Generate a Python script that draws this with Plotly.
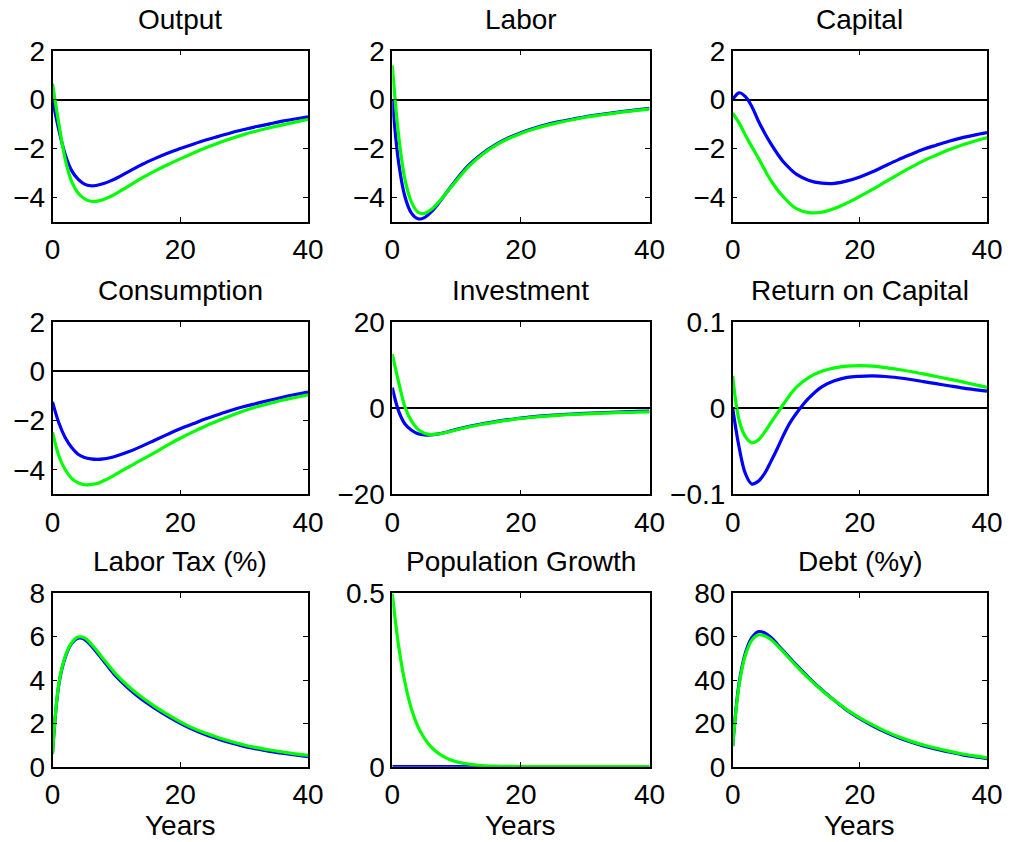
import plotly.graph_objects as go

# Time axis (years after the shock): yearly to 10, then every 2 years
years = [0, 1, 2, 3, 4, 5, 6, 7, 8, 9, 10,
         12, 14, 16, 18, 20, 22, 24, 26, 28, 30, 32, 34, 36, 38, 40]

output_blue = [0, -1.25, -2.25, -2.9, -3.25, -3.45, -3.52, -3.5, -3.43, -3.33, -3.21,
               -2.93, -2.65, -2.41, -2.19, -2.0, -1.82, -1.65, -1.5, -1.35, -1.22,
               -1.1, -0.99, -0.88, -0.79, -0.7]
output_green = [0.65, -1.0, -2.45, -3.35, -3.82, -4.05, -4.15, -4.15, -4.08, -3.97, -3.83,
                -3.52, -3.2, -2.92, -2.66, -2.42, -2.19, -1.97, -1.77, -1.59, -1.42,
                -1.28, -1.15, -1.03, -0.92, -0.81]

labor_blue = [0, -2.6, -4.0, -4.65, -4.87, -4.82, -4.6, -4.3, -3.95, -3.6, -3.25,
              -2.65, -2.2, -1.85, -1.57, -1.35, -1.17, -1.02, -0.9, -0.8, -0.7,
              -0.62, -0.55, -0.48, -0.42, -0.36]
labor_green = [1.4, -1.5, -3.3, -4.2, -4.6, -4.65, -4.5, -4.25, -3.95, -3.62, -3.3,
               -2.7, -2.24, -1.88, -1.6, -1.38, -1.2, -1.05, -0.93, -0.82, -0.72,
               -0.64, -0.57, -0.5, -0.44, -0.39]

capital_blue = [0, 0.28, 0.12, -0.28, -0.85, -1.35, -1.8, -2.2, -2.55, -2.82, -3.04,
                -3.3, -3.41, -3.42, -3.32, -3.16, -2.95, -2.7, -2.46, -2.24, -2.03,
                -1.86, -1.7, -1.56, -1.45, -1.35]
capital_green = [-0.55, -0.95, -1.45, -1.92, -2.37, -2.85, -3.3, -3.67, -3.98, -4.25, -4.45,
                 -4.62, -4.6, -4.45, -4.22, -3.95, -3.67, -3.36, -3.06, -2.77, -2.5,
                 -2.27, -2.05, -1.86, -1.7, -1.55]

consumption_blue = [-1.24, -2.1, -2.7, -3.1, -3.37, -3.5, -3.56, -3.58, -3.56, -3.51, -3.44,
                    -3.26, -3.04, -2.8, -2.56, -2.33, -2.13, -1.93, -1.75, -1.58, -1.43,
                    -1.3, -1.17, -1.05, -0.94, -0.84]
consumption_green = [-2.47, -3.44, -4.0, -4.35, -4.53, -4.61, -4.6, -4.56, -4.45, -4.32, -4.17,
                     -3.88, -3.59, -3.3, -3.0, -2.72, -2.46, -2.22, -2.0, -1.79, -1.6,
                     -1.44, -1.3, -1.17, -1.06, -0.95]

investment_blue = [4.8, -0.7, -3.7, -5.1, -5.9, -6.2, -6.2, -6.0, -5.7, -5.3, -4.9,
                   -4.2, -3.6, -3.1, -2.65, -2.25, -1.95, -1.7, -1.5, -1.33, -1.18,
                   -1.05, -0.93, -0.82, -0.72, -0.63]
investment_green = [12.6, 6.0, 0.2, -3.0, -4.9, -5.8, -6.1, -6.0, -5.75, -5.4, -5.0,
                    -4.3, -3.7, -3.2, -2.75, -2.35, -2.05, -1.8, -1.6, -1.43, -1.29,
                    -1.17, -1.07, -0.98, -0.91, -0.85]

return_blue = [0, -0.045, -0.076, -0.088, -0.085, -0.076, -0.062, -0.047, -0.031, -0.017, -0.006,
               0.012, 0.025, 0.032, 0.036, 0.0372, 0.0376, 0.037, 0.0355, 0.0335, 0.031,
               0.0286, 0.0262, 0.0238, 0.0218, 0.020]
return_green = [0.0376, -0.0136, -0.033, -0.040, -0.037, -0.028, -0.017, -0.006, 0.005, 0.0155, 0.0244,
                0.036, 0.043, 0.047, 0.049, 0.0496, 0.049, 0.0474, 0.0452, 0.0428, 0.040,
                0.037, 0.034, 0.031, 0.0275, 0.0244]

labortax_blue = [0.6, 3.8, 5.05, 5.68, 5.93, 5.88, 5.6, 5.25, 4.88, 4.5, 4.15,
                 3.58, 3.1, 2.7, 2.33, 2.0, 1.71, 1.47, 1.27, 1.09, 0.94,
                 0.82, 0.71, 0.62, 0.54, 0.46]
labortax_green = [0.6, 3.85, 5.1, 5.72, 5.98, 5.95, 5.68, 5.33, 4.96, 4.6, 4.25,
                  3.68, 3.2, 2.78, 2.41, 2.07, 1.78, 1.54, 1.34, 1.16, 1.0,
                  0.88, 0.77, 0.68, 0.59, 0.52]

popgrowth_blue = [0] * 26
popgrowth_green = [0.5, 0.346, 0.24, 0.165, 0.115, 0.082, 0.058, 0.041, 0.029, 0.02, 0.014,
                   0.007, 0.0035, 0.0018, 0.0009, 0.0005, 0.0002, 0.0001, 0, 0, 0,
                   0, 0, 0, 0, 0]

debt_blue = [9.5, 38.5, 52.5, 59.5, 62.3, 61.8, 59.7, 56.6, 53.3, 50.1, 47.0,
             41.0, 35.5, 30.6, 26.0, 22.2, 18.9, 16.0, 13.5, 11.4, 9.6,
             8.1, 6.8, 5.6, 4.6, 3.7]
debt_green = [9.5, 37.5, 51.5, 58.3, 60.8, 60.4, 58.7, 56.0, 52.9, 49.7, 46.5,
              40.6, 35.3, 30.6, 26.2, 22.5, 19.3, 16.4, 13.9, 11.8, 10.0,
              8.5, 7.2, 6.0, 5.0, 4.1]

titles = ["Output", "Labor", "Capital", "Consumption", "Investment", "Return on Capital",
          "Labor Tax (%)", "Population Growth", "Debt (%y)"]
series = [(output_blue, output_green), (labor_blue, labor_green), (capital_blue, capital_green),
          (consumption_blue, consumption_green), (investment_blue, investment_green),
          (return_blue, return_green), (labortax_blue, labortax_green),
          (popgrowth_blue, popgrowth_green), (debt_blue, debt_green)]
y_ranges = [[-5, 2], [-5, 2], [-5, 2], [-5, 2], [-20, 20], [-0.1, 0.1], [0, 8], [0, 0.5], [0, 80]]
y_ticks = [[-4, -2, 0, 2], [-4, -2, 0, 2], [-4, -2, 0, 2], [-4, -2, 0, 2], [-20, 0, 20],
           [-0.1, 0, 0.1], [0, 2, 4, 6, 8], [0, 0.5], [0, 20, 40, 60, 80]]
x_ticks = [0, 20, 40]
show_zero = [True, True, True, True, True, True, False, False, False]

W, H = 1015, 842
col_px = [(52.5, 308), (392.3, 649.5), (732.7, 987)]
row_px = [(50.7, 222), (322.3, 494.3), (593.3, 766.7)]

FONT = "Liberation Sans, Arial, Helvetica, sans-serif"
TICK_SIZE = 28
TITLE_SIZE = 28

fig = go.Figure()
layout = {}
annotations = []

for i, title in enumerate(titles):
    r, c = divmod(i, 3)
    n = i + 1
    sfx = "" if n == 1 else str(n)
    blue, green = series[i]
    for vals, color in ((blue, "#0000ff"), (green, "#00ff00")):
        fig.add_trace(go.Scatter(
            x=years, y=vals, xaxis="x" + sfx, yaxis="y" + sfx, mode="lines",
            line=dict(color=color, width=3.2, shape="spline", smoothing=1.0),
            showlegend=False, hoverinfo="skip"))

    x0, x1 = col_px[c]
    top, bot = row_px[r]
    xd = [x0 / W, x1 / W]
    yd = [1 - bot / H, 1 - top / H]
    common = dict(showline=True, mirror="allticks", linecolor="black", linewidth=1.5,
                  ticks="inside", ticklen=5, tickwidth=1.2, tickcolor="black",
                  showgrid=False, automargin=False,
                  tickfont=dict(family=FONT, size=TICK_SIZE, color="black"))
    layout["xaxis" + sfx] = dict(domain=xd, anchor="y" + sfx, range=[0, 40],
                                 tickvals=x_ticks, zeroline=False, ticklabelstandoff=2,
                                 **common)
    layout["yaxis" + sfx] = dict(domain=yd, anchor="x" + sfx, range=y_ranges[i],
                                 tickvals=y_ticks[i], zeroline=show_zero[i],
                                 zerolinecolor="black", zerolinewidth=1.5, **common)

    annotations.append(dict(text=title, x=(xd[0] + xd[1]) / 2, y=yd[1], xref="paper",
                            yref="paper", xanchor="center", yanchor="bottom", yshift=14,
                            showarrow=False,
                            font=dict(family=FONT, size=TITLE_SIZE, color="black")))
    if r == 2:
        annotations.append(dict(text="Years", x=(xd[0] + xd[1]) / 2, y=1 - 825 / H,
                                xref="paper", yref="paper", xanchor="center",
                                yanchor="middle", showarrow=False,
                                font=dict(family=FONT, size=TITLE_SIZE, color="black")))

fig.update_layout(width=W, height=H,
                  margin=dict(l=0, r=0, t=0, b=0, pad=0, autoexpand=False),
                  paper_bgcolor="white", plot_bgcolor="white",
                  annotations=annotations, **layout)

fig.write_html("out.html")
